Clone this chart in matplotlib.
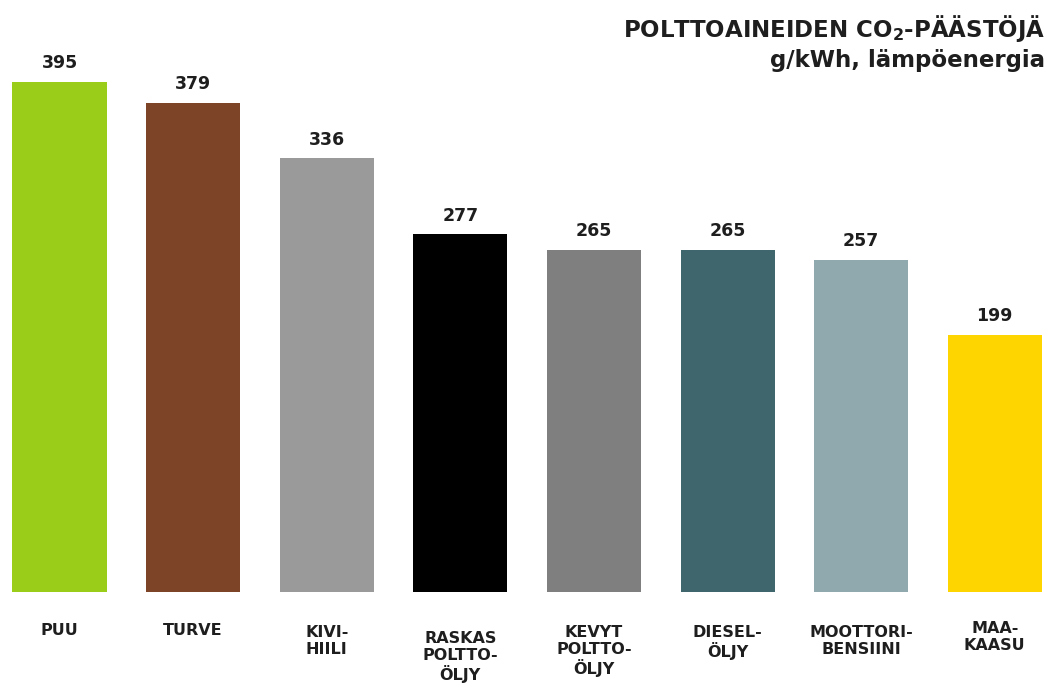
import matplotlib
matplotlib.use("Agg")
from matplotlib import pyplot as plt

# data
fuels = ["PUU", "TURVE", "KIVI-\nHIILI", "RASKAS\nPOLTTO-\nÖLJY", "KEVYT\nPOLTTO-\nÖLJY",
         "DIESEL-\nÖLJY", "MOOTTORI-\nBENSIINI", "MAA-\nKAASU"]
emissions = [395, 379, 336, 277, 265, 265, 257, 199]
colors = ["#9acd1a", "#7e4427", "#9a9a9a", "#000000", "#7f7f7f",
          "#3e666c", "#8fa9af", "#ffd500"]
title = "POLTTOAINEIDEN CO$_\\mathregular{2}$-PÄÄSTÖJÄ"
subtitle = "g/kWh, lämpöenergia"

plt.rcParams['font.family'] = ['DejaVu Sans']
plt.rcParams['mathtext.fontset'] = 'custom'
plt.rcParams['mathtext.rm'] = 'DejaVu Sans:bold'

W, H = 1055, 688
fig = plt.figure(figsize=(W/100, H/100), dpi=100)
bottom_px = 592
ax = fig.add_axes([0, (H-bottom_px)/H, 1, bottom_px/H])

step = 133.6
x0 = 59.5
px_per_unit = 1.291
ax.set_xlim(-x0/step, (W-x0)/step)
ax.set_ylim(0, bottom_px/px_per_unit)
ax.axis('off')

xs = list(range(len(fuels)))
ax.bar(xs, emissions, width=94/step, color=colors)

txt = '#1e1e1e'
for x, v in zip(xs, emissions):
    ax.annotate(str(v), (x, v), xytext=(0, 7), textcoords='offset points',
                ha='center', va='bottom', fontsize=12.5, fontweight='bold', color=txt)

# category names under the bars
label_top = [623, 623, 625, 631, 625, 625, 625, 621]
for x, name, top in zip(xs, fuels, label_top):
    ax.text(x, (bottom_px-top)/bottom_px, name, transform=ax.get_xaxis_transform(),
            ha='center', va='top', fontsize=11.5, fontweight='bold', color=txt,
            linespacing=1.15, clip_on=False)

fig.text(1045/W, 1-28/H, title, ha='right', va='center', fontsize=16.5,
         fontweight='bold', color=txt)
fig.text(1045/W, 1-61/H, subtitle, ha='right', va='center', fontsize=16.5,
         fontweight='bold', color=txt)

fig.savefig("out.png", dpi=100)
